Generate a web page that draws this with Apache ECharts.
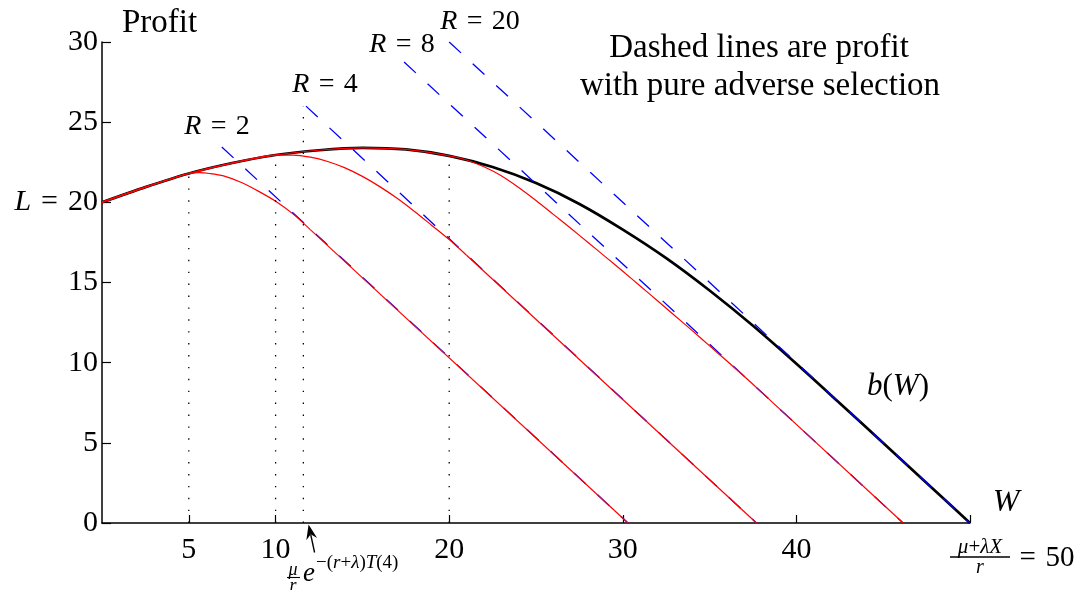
<!DOCTYPE html>
<html>
<head>
<meta charset="utf-8">
<script src="https://cdn.jsdelivr.net/npm/echarts@6/dist/echarts.min.js"></script>
<style>
  html, body { margin: 0; padding: 0; background: #fff; }
  #chart { width: 1078px; height: 590px; }
</style>
</head>
<body>
<div id="chart"></div>
<script>
// values (W on x, profit on y)
const bW = [0, 2.5, 5, 7.5, 10, 12.5, 15, 17.5, 20, 22.5, 25, 27.5, 30, 32.5, 35, 37.5, 40, 42.5, 45, 47.5, 50];
const bY = [20, 20.95, 21.8, 22.45, 22.95, 23.25, 23.4, 23.3, 22.9, 22.2, 21.2, 19.9, 18.3, 16.52, 14.5, 12.3, 9.93, 7.47, 4.99, 2.5, 0];

// red curves: last point is where the straight part meets the W axis
const red2W = [0, 2.5, 5, 5.6, 6.2, 7, 8, 9, 10, 11, 12, 30.3];
const red2Y = [20, 20.95, 21.8, 21.85, 21.8, 21.65, 21.25, 20.7, 20.07, 19.28, 18.3, 0];

const red4W = [0, 2.5, 5, 7.5, 10, 11, 12, 13, 14, 15, 16, 17, 18, 19, 20, 21, 37.7];
const red4Y = [20, 20.95, 21.8, 22.45, 22.95, 22.95, 22.82, 22.55, 22.15, 21.62, 20.98, 20.25, 19.43, 18.56, 17.68, 16.7, 0];

const red8W = [0, 2.5, 5, 7.5, 10, 12.5, 15, 17.5, 20, 21, 22, 23, 24, 25, 26, 27, 28, 29, 30, 31, 32, 33, 34, 35, 36, 37, 38, 46.15];
const red8Y = [20, 20.95, 21.8, 22.45, 22.95, 23.25, 23.4, 23.3, 22.9, 22.64, 22.22, 21.66, 20.93, 20.12, 19.25, 18.38, 17.5, 16.6, 15.7, 14.78, 13.86, 12.93, 12.0, 11.05, 10.1, 9.14, 8.15, 0];

// pure adverse selection lines (R = 2, 4, 8, 20)
const dashStartW = [6.9, 11.75, 17.4, 20.0];
const dashStartY = [23.45, 26.0, 28.75, 30.0];
const dashEndW = [30.3, 37.7, 46.15, 50.0];

// dotted verticals
const dotW = [5, 10, 11.6, 20];
const dotTop = [21.8, 22.95, 26.0, 22.9];

const xTickValues = [5, 10, 20, 30, 40, 50];
const xLabelValues = [5, 10, 20, 30, 40];
const arrowTipW = 11.9;

const SERIF = '"Liberation Serif", "DejaVu Serif", serif';
const MSP = '\u2004'; // math-ish space around "="
const pairs = (xs, ys) => xs.map((x, i) => [x, ys[i]]);

const chart = echarts.init(document.getElementById('chart'), null, { renderer: 'canvas' });

const dashedSeries = dashStartW.map((w, i) => ({
    type: 'line',
    data: [[w, dashStartY[i]], [dashEndW[i], 0]],
    symbol: 'none',
    silent: true,
    lineStyle: { color: '#0000ff', width: 1.3, type: [16, 16] }
}));

const redStyle = { color: '#ff0000', width: 1.2 };
const redSeries = [];
[[red2W, red2Y], [red4W, red4Y], [red8W, red8Y]].forEach(([xs, ys]) => {
    const pts = pairs(xs, ys);
    const n = pts.length;
    // curved part
    redSeries.push({
        type: 'line', data: pts.slice(0, n - 1), symbol: 'none', silent: true,
        smooth: 0.3, lineStyle: redStyle
    });
    // straight run down to the axis
    redSeries.push({
        type: 'line', data: pts.slice(n - 2), symbol: 'none', silent: true,
        lineStyle: redStyle
    });
});

const dottedSeries = dotW.map((w, i) => ({
    type: 'line',
    data: [[w, 0], [w, dotTop[i]]],
    symbol: 'none',
    silent: true,
    lineStyle: { color: '#000', width: 1.3, type: [1.4, 10.5] }
}));

chart.setOption({
    animation: false,
    backgroundColor: '#fff',
    grid: { left: 102, right: 108, top: 42, bottom: 67 },
    xAxis: {
        type: 'value',
        min: 0,
        max: 50,
        axisLine: { lineStyle: { color: '#000', width: 1.5 } },
        axisTick: { inside: true, length: 8, customValues: xTickValues, lineStyle: { color: '#000', width: 1.2 } },
        axisLabel: {
            customValues: xLabelValues,
            color: '#000',
            fontFamily: SERIF,
            fontSize: 30,
            margin: 12
        },
        splitLine: { show: false }
    },
    yAxis: {
        type: 'value',
        min: 0,
        max: 30,
        interval: 5,
        axisLine: { show: true, lineStyle: { color: '#000', width: 1.5 } },
        axisTick: { show: true, inside: true, length: 9, lineStyle: { color: '#000', width: 1.2 } },
        axisLabel: {
            color: '#000',
            fontFamily: SERIF,
            fontSize: 30,
            margin: 4,
            formatter: v => (v === 20 ? '{i|L}' + MSP + '=' + MSP + '20' : String(v)),
            rich: { i: { fontStyle: 'italic', fontFamily: SERIF, fontSize: 30, color: '#000' } }
        },
        splitLine: { show: false }
    },
    series: [
        {
            type: 'line',
            data: pairs(bW, bY),
            symbol: 'none',
            silent: true,
            smooth: 0.3,
            lineStyle: { color: '#000', width: 2.7 }
        },
        ...dashedSeries,
        ...redSeries,
        ...dottedSeries
    ]
});

// annotations
const txt = (text, x, y, size, opts = {}) => ({
    type: 'text',
    silent: true,
    style: Object.assign({
        text, x, y,
        fill: '#000',
        fontFamily: SERIF,
        fontSize: size,
        align: 'center',
        verticalAlign: 'middle'
    }, opts)
});
const italic = size => ({ fontStyle: 'italic', fontFamily: SERIF, fontSize: size, fill: '#000' });
const rlabel = (n, x, y) => txt('{i|R}' + MSP + '=' + MSP + n, x, y, 28, { rich: { i: italic(28) } });

const tip = chart.convertToPixel({ gridIndex: 0 }, [arrowTipW, 0]);
const tx = tip[0], ty = tip[1] + 1.5;
const tailX = tx + 6, tailY = ty + 28;
const len = Math.hypot(tailX - tx, tailY - ty);
const ux = (tailX - tx) / len, uy = (tailY - ty) / len;
const px = -uy, py = ux;
const head = [
    [tx, ty],
    [tx + ux * 15 + px * 5.5, ty + uy * 15 + py * 5.5],
    [tx + ux * 10, ty + uy * 10],
    [tx + ux * 15 - px * 5.5, ty + uy * 15 - py * 5.5]
];

chart.setOption({
    graphic: [
        txt('Profit', 122, 23, 33, { align: 'left' }),
        rlabel('2', 217, 127),
        rlabel('4', 325, 85),
        rlabel('8', 402, 45),
        rlabel('20', 480, 22),
        txt('Dashed lines are profit', 759, 48, 33),
        txt('with pure adverse selection', 760, 86, 33),
        txt('{i|b}({i|W})', 898, 387, 31, { rich: { i: italic(31) } }),
        txt('W', 1006, 503, 32, { fontStyle: 'italic' }),
        // (mu + lambda X)/r = 50
        txt('{i|μ}+{i|λX}', 980, 547, 21, { rich: { i: italic(21) } }),
        { type: 'line', silent: true, shape: { x1: 950, y1: 557, x2: 1010, y2: 557 }, style: { stroke: '#000', lineWidth: 1.3 } },
        txt('r', 980, 568, 20, { fontStyle: 'italic' }),
        txt('=' + MSP + '50', 1047, 558, 29),
        // mu/r e^{-(r+lambda)T(4)}
        txt('μ', 293, 570, 18, { fontStyle: 'italic' }),
        { type: 'line', silent: true, shape: { x1: 287, y1: 577.5, x2: 300, y2: 577.5 }, style: { stroke: '#000', lineWidth: 1.1 } },
        txt('r', 293, 586, 18, { fontStyle: 'italic' }),
        txt('e', 309, 574, 27, { fontStyle: 'italic' }),
        txt('−({i|r}+{i|λ}){i|T}(4)', 316, 563, 19, { align: 'left', rich: { i: italic(19) } }),
        // arrow to the axis
        { type: 'line', silent: true, shape: { x1: tx + ux * 10, y1: ty + uy * 10, x2: tailX, y2: tailY }, style: { stroke: '#000', lineWidth: 1.4 } },
        { type: 'polygon', silent: true, shape: { points: head }, style: { fill: '#000' } }
    ]
});
</script>
</body>
</html>
